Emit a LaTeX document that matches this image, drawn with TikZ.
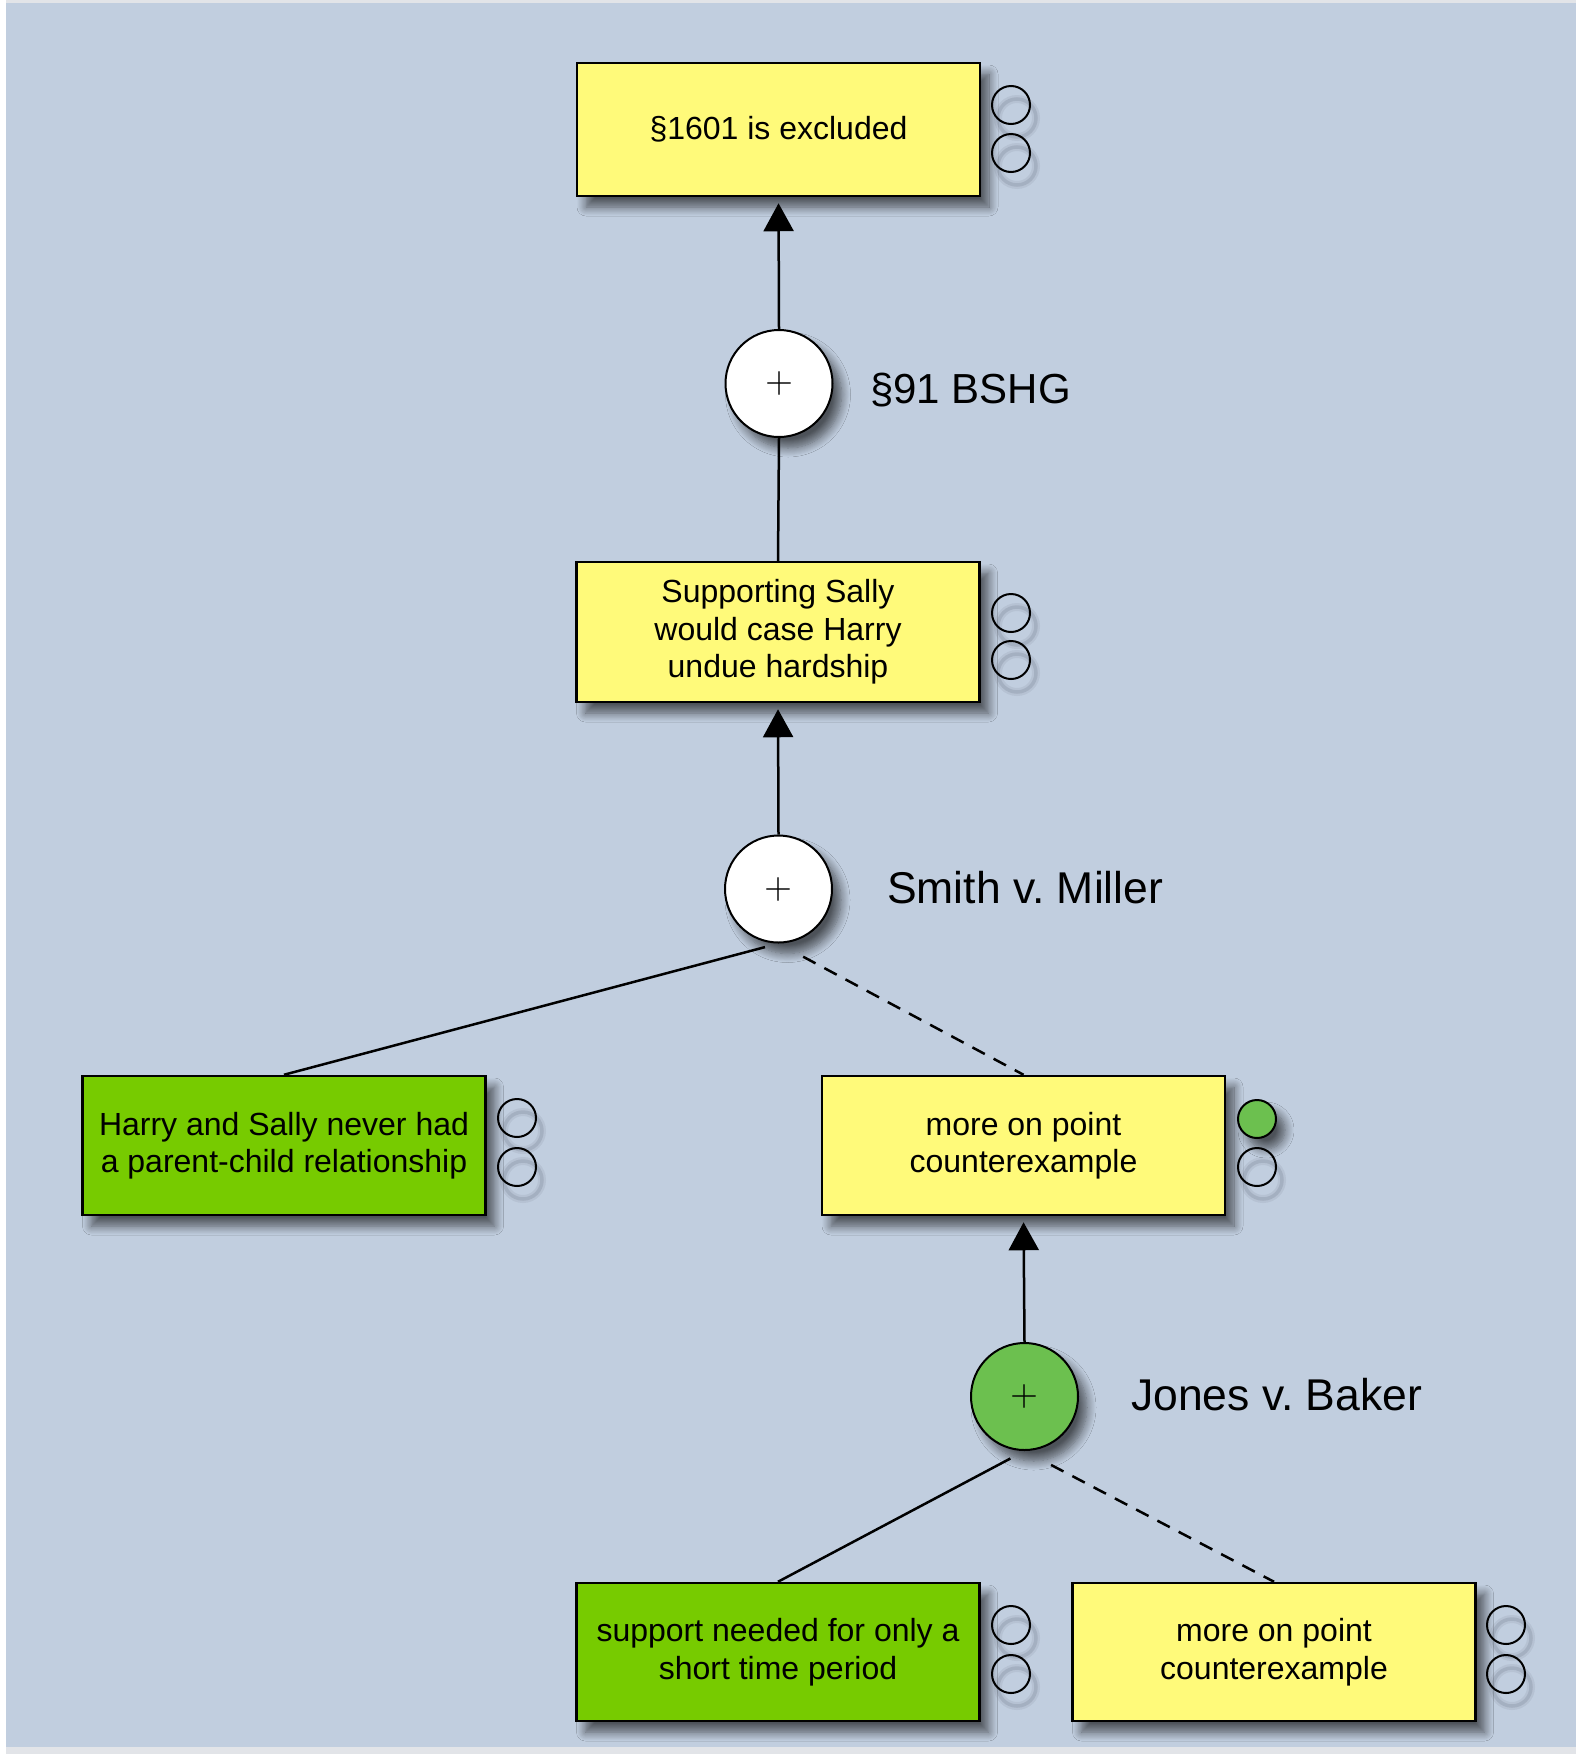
\documentclass[tikz,border=0pt]{standalone}
\usepackage{fontspec}
\setmainfont{Liberation Sans}
\newfontfamily\lmfont{lmroman10-regular.otf}
\usetikzlibrary{arrows.meta,shadows.blur}
\definecolor{bg}{HTML}{C1CEDF}
\definecolor{yel}{HTML}{FFFA7A}
\definecolor{grn}{HTML}{77CB00}
\definecolor{cgrn}{HTML}{6CC04F}
\definecolor{edge}{HTML}{E2E4E8}
\definecolor{shcol}{HTML}{2A3040}
\frenchspacing
\begin{document}
\frenchspacing
\begin{tikzpicture}[x=1pt,y=-1pt,
  shad/.style={blur shadow={shadow xshift=9pt, shadow yshift=-11pt, shadow blur radius=9pt, shadow opacity=60, shadow blur steps=10}},
  box/.style={draw=black, line width=2.5pt, minimum width=403pt, minimum height=139pt, inner sep=0pt, align=center, font=\fontsize{32}{37.5}\selectfont, shad},
  ybox/.style={box, fill=yel},
  gbox/.style={box, fill=grn},
  conn/.style={circle, draw=black, line width=2pt, minimum size=107pt, inner sep=0pt, font=\lmfont\fontsize{36}{36}\selectfont, shad},
  case/.style={anchor=base west, inner sep=0pt, font=\fontsize{44.5}{50}\selectfont},
  statcirc/.style={circle, draw=black, line width=2pt, minimum size=38pt, inner sep=0pt},
  ghost/.style={draw=shcol, line width=8pt, opacity=0.07},
  ghostb/.style={draw=shcol, line width=3.5pt, opacity=0.12},
  link/.style={line width=2.5pt},
  arr/.style={link, -{Triangle[width=30pt,length=28pt]}, shorten >=6pt},
  dlink/.style={link, dash pattern=on 14pt off 10pt},
]
\useasboundingbox (0,0) rectangle (1576,1754);
\fill[edge] (0,0) rectangle (1576,1754);
\fill[white] (0,0) rectangle (6,1754);
\fill[bg] (6,3) rectangle (1576,1747);

% ghost shadows of status circles
\foreach \x/\y in {1011/105,1011/153,1011/613,1011/660,517/1118,517/1167,1257/1167,1011/1625,1011/1674,1506/1625,1506/1674}{
  \draw[ghost] (\x+6,\y+13) circle[radius=19pt];
  \draw[ghostb] (\x+6,\y+13) circle[radius=19pt];
}

% boxes
\node[ybox, minimum height=133pt] (b1) at (778.5,129.5) {§1601 is excluded};
\node[ybox, minimum height=140pt] (b2) at (778,632) {Supporting Sally\\would case Harry\\undue hardship};
\node[gbox] (b3) at (284,1145.5) {Harry and Sally never had\\a parent-child relationship};
\node[ybox] (b4) at (1023.5,1145.5) {more on point\\counterexample};
\node[gbox, minimum height=138pt] (b5) at (778,1652) {support needed for only a\\short time period};
\node[ybox, minimum height=138pt] (b6) at (1274,1652) {more on point\\counterexample};

% argument nodes
\node[conn, fill=white] (c1) at (779,383.5) {+};
\node[conn, fill=white] (c2) at (778.5,889) {+};
\node[conn, fill=cgrn] (c3) at (1024.5,1396.5) {+};

% labels
\node[case, font=\fontsize{42}{48}\selectfont] (l1) at (870,403) {§91 BSHG};
\node[case] (l2) at (887,903) {Smith v. Miller};
\node[case] (l3) at (1131,1410) {Jones v. Baker};

% status circles
\node[statcirc] (s1a) at (1011,105) {};
\node[statcirc] (s1b) at (1011,153) {};
\node[statcirc] (s2a) at (1011,613) {};
\node[statcirc] (s2b) at (1011,660) {};
\node[statcirc] (s3a) at (517,1118) {};
\node[statcirc] (s3b) at (517,1167) {};
\node[statcirc, fill=cgrn, shad] (s4a) at (1257,1119) {};
\node[statcirc] (s4b) at (1257,1167) {};
\node[statcirc] (s5a) at (1011,1625) {};
\node[statcirc] (s5b) at (1011,1674) {};
\node[statcirc] (s6a) at (1506,1625) {};
\node[statcirc] (s6b) at (1506,1674) {};

% connectors
\draw[arr] (c1.north) -- (b1.south);
\draw[link] (b2.north) -- (c1.south);
\draw[arr] (c2.north) -- (b2.south);
\draw[link, shorten <=14pt] (c2.south) -- (b3.north);
\draw[dlink, shorten <=28pt] (c2.south) -- (b4.north);
\draw[arr] (c3.north) -- (b4.south);
\draw[link, shorten <=16pt] (c3.south) -- (b5.north);
\draw[dlink, shorten <=30pt] (c3.south) -- (b6.north);
\end{tikzpicture}
\end{document}
